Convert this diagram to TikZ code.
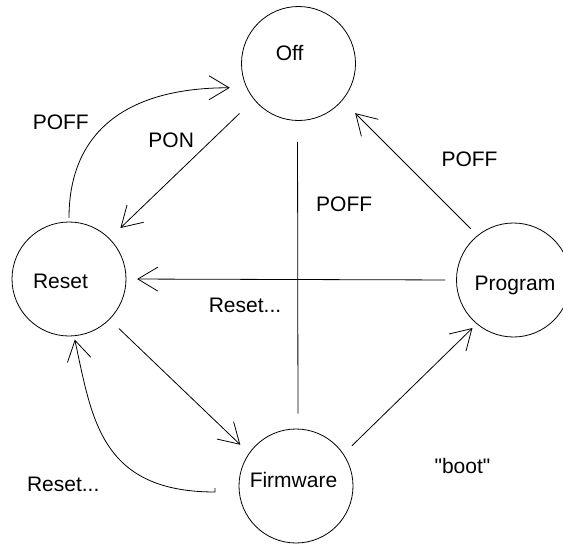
\documentclass[tikz,border=0pt]{standalone}
\usepackage{fontspec}
\setmainfont{Liberation Sans}[Ligatures=TeXOff]
\usetikzlibrary{arrows.meta}
\begin{document}
\begin{tikzpicture}[x=1pt,y=-1pt,
  state/.style={draw, circle, minimum size=114pt, inner sep=0pt, line width=0.8pt},
  lbl/.style={anchor=base, inner sep=0pt, font=\fontsize{21}{25}\selectfont},
  conn/.style={line width=0.8pt, -{Straight Barb[length=20pt,width=24pt]}},
  plainline/.style={line width=0.8pt}]
\useasboundingbox (0,0) rectangle (563,544);
\clip (0,0) rectangle (563,544);
% states
\node[state] (off) at (298.5,63.5) {};
\node[state] (reset) at (69,279) {};
\node[state] (prog) at (513.5,280) {};
\node[state] (fw) at (296,486) {};
% state texts
\node[lbl] (offT) at (289.7,60.7) {Off};
\node[lbl] (resetT) at (60.5,288.3) {Reset};
\node[lbl] (progT) at (515,290.5) {Program};
\node[lbl] (fwT) at (293.5,487.3) {Firmware};
% edge labels
\node[lbl] (l1) at (60.8,129.3) {POFF};
\node[lbl] (l2) at (171.2,147.3) {PON};
\node[lbl] (l3) at (344.2,211.7) {POFF};
\node[lbl] (l4) at (469.5,166.7) {POFF};
\node[lbl] (l5) at (245,312.3) {Reset...};
\node[lbl] (l6) at (63.2,491.7) {Reset...};
\node[lbl] (l7) at (462.5,473.3) {"boot"};
% connectors
\draw[conn, shorten <=20pt, shorten >=15pt] (off.219) -- (reset.45);
\draw[conn, shorten <=3.7pt, shorten >=16.7pt] (reset.90) .. controls +(0,-84) and +(-127,0) .. (off.205);
\draw[conn, shorten <=9.5pt, shorten >=18pt] (prog.129) -- (off.-40);
\draw[conn, shorten <=10.8pt, shorten >=10.7pt] (prog.180) -- (reset.0);
\draw[plainline, shorten <=21pt, shorten >=15pt] (off.269) -- (fw.88);
\draw[conn, shorten <=12.8pt, shorten >=12pt] (reset.-45) -- (fw.145);
\draw[conn, shorten <=11.6pt, shorten >=5.8pt] (fw.34) -- (prog.230);
\coordinate (fwL) at (215,492);
\draw[conn, shorten >=3.5pt] ([yshift=4pt]fwL) -- (fwL) .. controls +(-115,0) and +(18,82) .. (reset.-85);
\end{tikzpicture}
\end{document}
